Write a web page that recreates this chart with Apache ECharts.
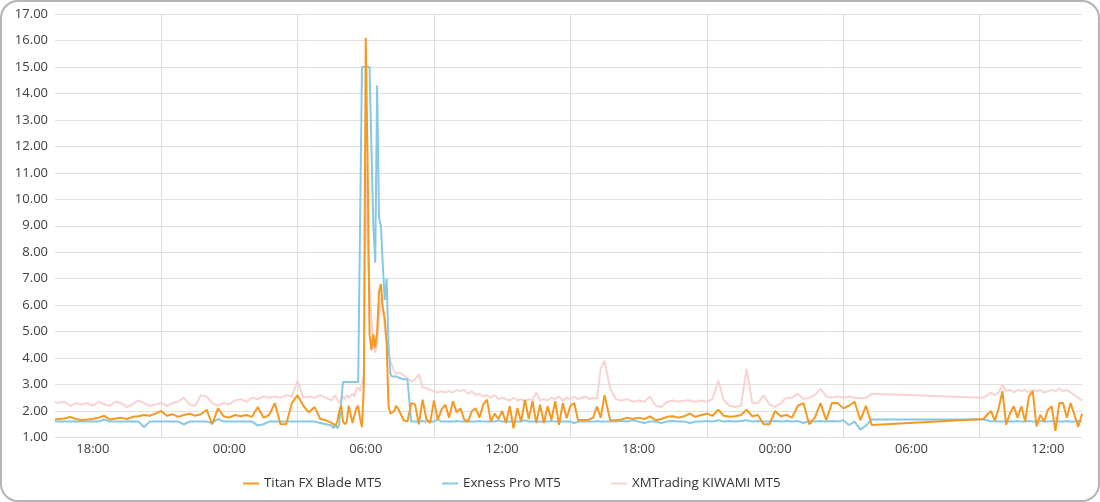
<!DOCTYPE html>
<html>
<head>
<meta charset="utf-8">
<script src="https://cdn.jsdelivr.net/npm/echarts@6.0.0/dist/echarts.min.js"></script>
<style>
  html, body { margin: 0; padding: 0; background: #ffffff; }
  #wrap { position: relative; width: 1100px; height: 502px; }
  #chart { position: absolute; left: 0; top: 0; width: 1100px; height: 502px; }
  #frame { position: absolute; left: 0; top: 0; width: 1100px; height: 502px; box-sizing: border-box;
           border: 2px solid #b4b4b4; border-radius: 18px; pointer-events: none; }
</style>
</head>
<body>
<div id="wrap"><div id="chart"></div><div id="frame"></div></div>
<script>
// ---- time samples (hours counted from 00:00 of the first day) ----
// [start hour, step in hours, number of samples]
const timeSegments = [
  [16 + 20 / 60, 0.25, 1],   // 16:20
  [16.5, 0.25, 48],          // 16:30 -> 04:15 (day 2)
  [28.5, 1 / 12, 36],        // 04:30 -> 07:25 (day 2, 5-min samples)
  [31.5, 1 / 6, 54],         // 07:30 -> 16:20 (day 2, 10-min samples)
  [40.5, 0.25, 48],          // 16:30 -> 04:15 (day 3)
  [57 + 10 / 60, 1 / 6, 27]  // 09:10 -> 13:30 (day 3, 10-min samples)
];

const seriesNames = ['Titan FX Blade MT5', 'Exness Pro MT5', 'XMTrading KIWAMI MT5'];

const titanValues = [
  1.68,
  1.70,1.72,1.78,1.70,1.66,1.68,1.70,1.75,1.82,1.68,1.72,1.75,
  1.70,1.78,1.80,1.85,1.82,1.90,2.00,1.82,1.88,1.78,1.85,1.90,
  1.82,1.88,2.05,1.50,2.10,1.80,1.75,1.85,1.80,1.85,1.78,2.15,
  1.75,1.85,2.30,1.50,1.50,2.30,2.60,2.20,1.95,2.15,1.70,1.65,
  1.55,1.50,1.45,1.60,2.00,2.20,1.60,1.50,1.60,2.20,2.25,1.55,
  1.60,2.10,2.20,1.70,1.40,3.00,16.10,11.20,4.90,4.30,4.90,4.40,
  5.00,6.50,6.80,5.90,5.50,4.60,2.20,1.90,1.85,2.00,2.20,2.10,
  2.10,1.65,1.60,2.30,2.25,1.50,2.43,1.70,1.55,2.40,1.67,2.05,
  2.24,1.75,2.37,1.95,2.10,1.67,1.60,2.00,2.10,1.75,2.24,2.43,
  1.60,1.90,1.70,2.00,1.55,2.18,1.35,2.10,1.60,2.43,1.70,2.37,
  1.55,2.24,1.55,2.18,1.67,2.37,1.48,2.30,1.73,2.20,2.30,1.66,
  1.66,1.66,1.68,1.75,2.17,1.75,
  2.60,1.65,1.66,1.68,1.75,1.70,1.75,1.70,1.80,1.65,1.70,1.78,
  1.80,1.75,1.80,1.90,1.78,1.85,1.90,1.82,2.05,1.82,1.78,1.80,
  1.85,2.05,1.80,1.85,1.50,1.50,2.00,1.80,1.85,1.75,2.20,2.30,
  1.50,1.75,2.30,1.65,2.30,2.30,2.10,2.20,2.35,1.65,2.20,1.47,
  1.70,1.86,2.00,1.63,2.10,2.75,1.48,1.92,2.18,1.75,2.18,1.60,
  2.55,2.75,1.42,1.86,1.60,2.05,2.18,1.25,2.30,2.30,1.75,2.30,
  1.86,1.40,1.90
];

const exnessValues = [
  1.60,
  1.60,1.60,1.60,1.60,1.60,1.60,1.60,1.60,1.68,1.60,1.60,1.60,
  1.60,1.60,1.60,1.40,1.60,1.60,1.60,1.60,1.60,1.60,1.50,1.60,
  1.60,1.60,1.60,1.55,1.70,1.60,1.60,1.60,1.60,1.60,1.60,1.45,
  1.50,1.60,1.60,1.60,1.60,1.60,1.60,1.60,1.60,1.60,1.55,1.50,
  1.45,1.35,1.50,1.35,1.50,1.55,3.10,3.10,3.10,3.10,3.10,3.10,
  3.10,3.10,3.10,3.10,15.00,15.00,15.00,15.00,15.00,15.00,9.00,7.60,
  14.30,9.30,9.00,7.50,6.20,7.00,4.50,3.40,3.30,3.25,3.30,3.25,
  3.25,3.20,3.20,1.60,1.60,1.60,1.62,1.60,1.60,1.60,1.68,1.60,
  1.60,1.60,1.60,1.62,1.60,1.60,1.60,1.60,1.60,1.62,1.60,1.60,
  1.60,1.60,1.65,1.60,1.60,1.60,1.60,1.60,1.60,1.65,1.60,1.60,
  1.60,1.60,1.60,1.60,1.62,1.60,1.60,1.60,1.60,1.60,1.55,1.60,
  1.60,1.60,1.60,1.60,1.62,1.60,
  1.60,1.60,1.60,1.62,1.60,1.65,1.60,1.55,1.60,1.60,1.55,1.60,
  1.62,1.60,1.60,1.55,1.60,1.60,1.62,1.60,1.65,1.60,1.62,1.60,
  1.62,1.65,1.60,1.62,1.60,1.60,1.62,1.60,1.62,1.60,1.62,1.55,
  1.62,1.60,1.62,1.60,1.62,1.60,1.65,1.47,1.60,1.30,1.45,1.68,
  1.68,1.65,1.60,1.62,1.60,1.60,1.62,1.60,1.60,1.62,1.60,1.60,
  1.62,1.60,1.60,1.62,1.60,1.60,1.62,1.60,1.60,1.60,1.62,1.60,
  1.60,1.62,1.60
];

const xmValues = [
  2.35,
  2.30,2.35,2.20,2.30,2.25,2.30,2.20,2.35,2.25,2.20,2.35,2.30,
  2.15,2.25,2.40,2.30,2.20,2.25,2.30,2.20,2.30,2.35,2.50,2.25,
  2.20,2.60,2.55,2.30,2.20,2.30,2.25,2.40,2.45,2.35,2.50,2.45,
  2.55,2.50,2.55,2.50,2.60,2.55,3.15,2.50,2.55,2.50,2.60,2.50,
  2.40,2.50,2.60,2.45,2.30,2.40,2.55,2.45,2.60,2.50,2.55,2.65,
  2.55,2.80,2.90,2.75,3.00,3.40,11.30,8.00,6.70,5.50,4.50,4.20,
  4.60,5.40,6.30,5.90,5.20,4.60,4.10,3.90,3.70,3.50,3.40,3.45,
  3.45,3.35,3.25,3.10,3.20,3.40,2.90,2.85,2.80,2.75,2.70,2.75,
  2.70,2.75,2.70,2.80,2.75,2.80,2.65,2.75,2.60,2.65,2.55,2.60,
  2.50,2.60,2.45,2.50,2.45,2.40,2.50,2.40,2.45,2.35,2.45,2.40,
  2.70,2.40,2.45,2.40,2.50,2.45,2.55,2.40,2.50,2.45,2.55,2.45,
  2.50,2.55,2.45,2.50,2.45,3.60,
  3.90,2.85,2.45,2.40,2.45,2.35,2.40,2.35,2.55,2.20,2.15,2.35,
  2.40,2.35,2.40,2.40,2.35,2.40,2.35,2.45,3.15,2.40,2.20,2.15,
  2.20,3.60,2.30,2.30,2.60,2.25,2.15,2.30,2.50,2.50,2.65,2.45,
  2.50,2.60,2.85,2.55,2.50,2.55,2.50,2.55,2.50,2.48,2.50,2.65,
  2.50,2.60,2.70,2.60,2.70,3.00,2.75,2.80,2.70,2.80,2.75,2.80,
  2.70,2.80,2.75,2.80,2.70,2.75,2.80,2.75,2.85,2.75,2.80,2.70,
  2.60,2.50,2.40
];

// axis ticks
const xTickHours = [18, 24, 30, 36, 42, 48, 54, 60];
const xTickLabels = ['18:00', '00:00', '06:00', '12:00', '18:00', '00:00', '06:00', '12:00'];
const xGridHours = [21, 27, 33, 39, 45, 51, 57];
const yMin = 1, yMax = 17, yStep = 1;

// ---- build ----
const times = [];
timeSegments.forEach(([s, st, n]) => { for (let i = 0; i < n; i++) times.push(s + i * st); });
const pairs = vals => vals.map((v, i) => [times[i], v]);

const colors = ['#f49a22', '#86c8e6', '#f9d2d2'];
const chart = echarts.init(document.getElementById('chart'), null, { renderer: 'canvas' });
const font = "'Open Sans', 'Noto Sans', sans-serif";
const legendLefts = [238, 437, 606];

chart.setOption({
  animation: false,
  color: colors,
  grid: { left: 55, right: 18, top: 14, bottom: 64.5, containLabel: false },
  legend: seriesNames.map((n, i) => ({
    data: [n],
    left: legendLefts[i], top: 472,
    icon: 'rect', itemWidth: 16, itemHeight: 2,
    textStyle: { fontFamily: font, fontSize: 13.3, color: '#333' }
  })),
  xAxis: {
    type: 'value',
    min: timeSegments[0][0], max: 61.5,
    axisLine: { show: false },
    axisTick: { show: false, customValues: xGridHours },
    axisLabel: {
      customValues: xTickHours,
      margin: 5,
      fontFamily: font, fontSize: 13, color: '#404040',
      formatter: v => { const k = xTickHours.indexOf(Math.round(v)); return k >= 0 ? xTickLabels[k] : ''; }
    },
    splitLine: { show: true, lineStyle: { color: '#dddddd', width: 1 } }
  },
  yAxis: {
    type: 'value', min: yMin, max: yMax, interval: yStep,
    axisLine: { show: false }, axisTick: { show: false },
    axisLabel: { margin: 7, fontFamily: font, fontSize: 13, color: '#404040', formatter: v => v.toFixed(2) },
    splitLine: { lineStyle: { color: '#e0e0e0', width: 1 } }
  },
  series: [
    { name: seriesNames[0], type: 'line', data: pairs(titanValues), showSymbol: false, symbol: 'none', z: 4,
      lineStyle: { width: 2, color: colors[0] } },
    { name: seriesNames[1], type: 'line', data: pairs(exnessValues), showSymbol: false, symbol: 'none', z: 3,
      lineStyle: { width: 2, color: colors[1] } },
    { name: seriesNames[2], type: 'line', data: pairs(xmValues), showSymbol: false, symbol: 'none', z: 2,
      lineStyle: { width: 2, color: colors[2] } }
  ]
});
if (titanValues.length !== times.length || exnessValues.length !== times.length || xmValues.length !== times.length) {
  console.error('length mismatch', times.length, titanValues.length, exnessValues.length, xmValues.length);
}
</script>
</body>
</html>
